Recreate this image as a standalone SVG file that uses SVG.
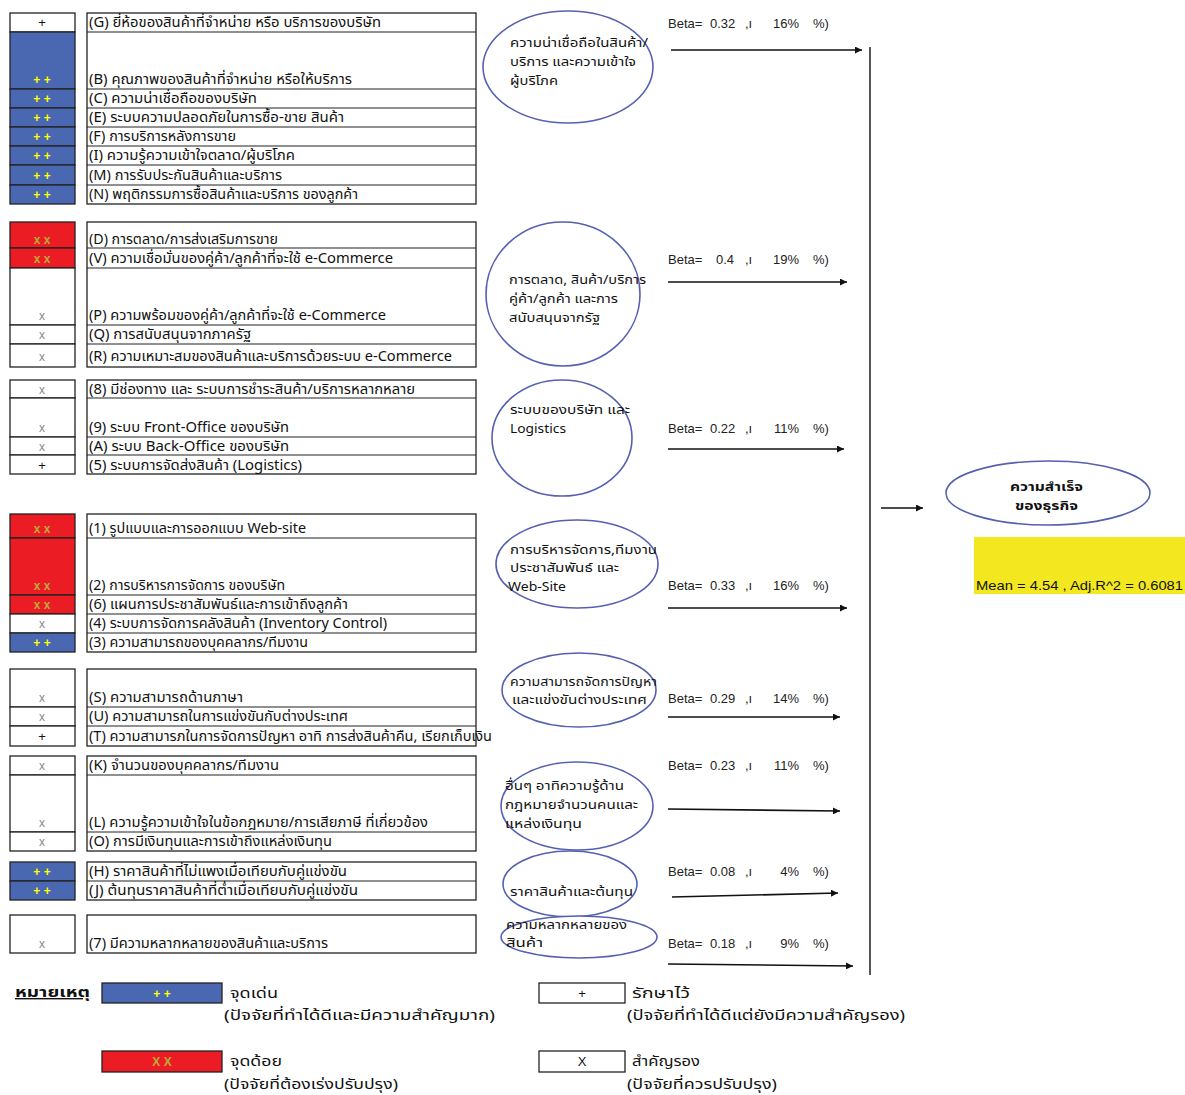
<svg xmlns="http://www.w3.org/2000/svg" width="1185" height="1095" viewBox="0 0 1185 1095">
<defs>
  <marker id="ah" viewBox="0 0 10 10" refX="10" refY="5" markerWidth="7" markerHeight="7" markerUnits="userSpaceOnUse" orient="auto">
    <path d="M0,0 L10,5 L0,10 z" fill="#111"/>
  </marker>
  <style>
    .th{font-family:"Noto Sans Thai","Noto Sans Thai UI","Tahoma","Liberation Sans",sans-serif;font-size:14px;fill:#111}
    .et{font-family:"Noto Sans Thai","Noto Sans Thai UI","Tahoma","Liberation Sans",sans-serif;font-size:12.5px;fill:#111}
    .lat{font-family:"Liberation Sans",Arial,sans-serif;font-size:13px;fill:#111}
    .box{fill:#fff;stroke:#222;stroke-width:1.3}
    .sep{stroke:#222;stroke-width:1.1}
    .blue{fill:#4a67b1;stroke:#222;stroke-width:1.3}
    .red{fill:#ec1c24;stroke:#222;stroke-width:1.3}
    .wc{fill:#fff;stroke:#222;stroke-width:1.3}
    .pp{font-family:"Liberation Sans",Arial,sans-serif;font-size:12px;fill:#ffff00;text-anchor:middle;font-weight:bold}
    .xx{font-family:"Liberation Sans",Arial,sans-serif;font-size:12px;fill:#bda93a;text-anchor:middle;font-weight:bold}
    .x1{font-family:"Liberation Sans",Arial,sans-serif;font-size:12px;fill:#888;text-anchor:middle}
    .p1{font-family:"Liberation Sans",Arial,sans-serif;font-size:13px;fill:#111;text-anchor:middle}
    .ell{fill:#fff;stroke:#5560b0;stroke-width:1.6}
    .conn{stroke:#111;stroke-width:1.6;fill:none}
    .beta{font-family:"Liberation Sans",Arial,sans-serif;font-size:13px;fill:#222}
  </style>
</defs>
<rect width="1185" height="1095" fill="#fff"/>

<!-- factor group 1 -->
<g id="group1">
  <rect class="wc" x="10" y="13" width="65" height="19"/>
  <rect class="blue" x="10" y="32" width="65" height="57"/>
  <rect class="blue" x="10" y="89" width="65" height="19"/>
  <rect class="blue" x="10" y="108" width="65" height="19"/>
  <rect class="blue" x="10" y="127" width="65" height="19"/>
  <rect class="blue" x="10" y="146" width="65" height="19"/>
  <rect class="blue" x="10" y="165" width="65" height="20"/>
  <rect class="blue" x="10" y="185" width="65" height="19"/>
  <text class="p1" x="42" y="27">+</text>
  <text class="pp" x="42" y="84">+ +</text>
  <text class="pp" x="42" y="103">+ +</text>
  <text class="pp" x="42" y="122">+ +</text>
  <text class="pp" x="42" y="141">+ +</text>
  <text class="pp" x="42" y="160">+ +</text>
  <text class="pp" x="42" y="180">+ +</text>
  <text class="pp" x="42" y="199">+ +</text>
  <rect class="box" x="87" y="13" width="389" height="191"/>
  <path class="sep" d="M87,32H476M87,89H476M87,108H476M87,127H476M87,146H476M87,165H476M87,185H476"/>
  <text class="th" x="89" y="27" textLength="292" lengthAdjust="spacingAndGlyphs">(G) ยี่ห้อของสินค้าที่จำหน่าย หรือ บริการของบริษัท</text>
  <text class="th" x="89" y="84" textLength="263" lengthAdjust="spacingAndGlyphs">(B) คุณภาพของสินค้าที่จำหน่าย หรือให้บริการ</text>
  <text class="th" x="89" y="103" textLength="168" lengthAdjust="spacingAndGlyphs">(C) ความน่าเชื่อถือของบริษัท</text>
  <text class="th" x="89" y="122" textLength="255" lengthAdjust="spacingAndGlyphs">(E) ระบบความปลอดภัยในการซื้อ-ขาย  สินค้า</text>
  <text class="th" x="89" y="141" textLength="147" lengthAdjust="spacingAndGlyphs">(F) การบริการหลังการขาย</text>
  <text class="th" x="89" y="160" textLength="206" lengthAdjust="spacingAndGlyphs">(I) ความรู้ความเข้าใจตลาด/ผู้บริโภค</text>
  <text class="th" x="89" y="180" textLength="193" lengthAdjust="spacingAndGlyphs">(M) การรับประกันสินค้าและบริการ</text>
  <text class="th" x="89" y="199" textLength="269" lengthAdjust="spacingAndGlyphs">(N) พฤติกรรมการซื้อสินค้าและบริการ ของลูกค้า</text>
</g>

<!-- factor group 2 -->
<g id="group2">
  <rect class="red" x="10" y="222" width="65" height="26"/>
  <rect class="red" x="10" y="248" width="65" height="20"/>
  <rect class="wc" x="10" y="268" width="65" height="57"/>
  <rect class="wc" x="10" y="325" width="65" height="19"/>
  <rect class="wc" x="10" y="344" width="65" height="23"/>
  <text class="xx" x="42" y="244">x x</text>
  <text class="xx" x="42" y="263">x x</text>
  <text class="x1" x="42" y="320">x</text>
  <text class="x1" x="42" y="339">x</text>
  <text class="x1" x="42" y="361">x</text>
  <rect class="box" x="87" y="222" width="389" height="145"/>
  <path class="sep" d="M87,248H476M87,268H476M87,325H476M87,344H476"/>
  <text class="th" x="89" y="244" textLength="189" lengthAdjust="spacingAndGlyphs">(D) การตลาด/การส่งเสริมการขาย</text>
  <text class="th" x="89" y="263" textLength="304" lengthAdjust="spacingAndGlyphs">(V) ความเชื่อมั่นของคู่ค้า/ลูกค้าที่จะใช้ e-Commerce</text>
  <text class="th" x="89" y="320" textLength="297" lengthAdjust="spacingAndGlyphs">(P) ความพร้อมของคู่ค้า/ลูกค้าที่จะใช้ e-Commerce</text>
  <text class="th" x="89" y="339" textLength="162" lengthAdjust="spacingAndGlyphs">(Q) การสนับสนุนจากภาครัฐ</text>
  <text class="th" x="89" y="361" textLength="363" lengthAdjust="spacingAndGlyphs">(R) ความเหมาะสมของสินค้าและบริการด้วยระบบ e-Commerce</text>
</g>

<!-- factor group 3 -->
<g id="group3">
  <rect class="wc" x="10" y="380" width="65" height="18"/>
  <rect class="wc" x="10" y="398" width="65" height="39"/>
  <rect class="wc" x="10" y="437" width="65" height="18"/>
  <rect class="wc" x="10" y="455" width="65" height="19"/>
  <text class="x1" x="42" y="394">x</text>
  <text class="x1" x="42" y="432">x</text>
  <text class="x1" x="42" y="451">x</text>
  <text class="p1" x="42" y="470">+</text>
  <rect class="box" x="87" y="380" width="389" height="94"/>
  <path class="sep" d="M87,398H476M87,437H476M87,455H476"/>
  <text class="th" x="89" y="394" textLength="326" lengthAdjust="spacingAndGlyphs">(8) มีช่องทาง และ ระบบการชำระสินค้า/บริการหลากหลาย</text>
  <text class="th" x="89" y="432" textLength="200" lengthAdjust="spacingAndGlyphs">(9) ระบบ Front-Office ของบริษัท</text>
  <text class="th" x="89" y="451" textLength="200" lengthAdjust="spacingAndGlyphs">(A) ระบบ Back-Office ของบริษัท</text>
  <text class="th" x="89" y="470" textLength="213" lengthAdjust="spacingAndGlyphs">(5) ระบบการจัดส่งสินค้า (Logistics)</text>
</g>

<!-- factor group 4 -->
<g id="group4">
  <rect class="red" x="10" y="514" width="65" height="24"/>
  <rect class="red" x="10" y="538" width="65" height="57"/>
  <rect class="red" x="10" y="595" width="65" height="19"/>
  <rect class="wc" x="10" y="614" width="65" height="19"/>
  <rect class="blue" x="10" y="633" width="65" height="19"/>
  <text class="xx" x="42" y="533">x x</text>
  <text class="xx" x="42" y="590">x x</text>
  <text class="xx" x="42" y="609">x x</text>
  <text class="x1" x="42" y="628">x</text>
  <text class="pp" x="42" y="647">+ +</text>
  <rect class="box" x="87" y="514" width="389" height="138"/>
  <path class="sep" d="M87,538H476M87,595H476M87,614H476M87,633H476"/>
  <text class="th" x="89" y="533" textLength="217" lengthAdjust="spacingAndGlyphs">(1) รูปแบบและการออกแบบ Web-site</text>
  <text class="th" x="89" y="590" textLength="196" lengthAdjust="spacingAndGlyphs">(2) การบริหารการจัดการ ของบริษัท</text>
  <text class="th" x="89" y="609" textLength="259" lengthAdjust="spacingAndGlyphs">(6) แผนการประชาสัมพันธ์และการเข้าถึงลูกค้า</text>
  <text class="th" x="89" y="628" textLength="298" lengthAdjust="spacingAndGlyphs">(4) ระบบการจัดการคลังสินค้า (Inventory  Control)</text>
  <text class="th" x="89" y="647" textLength="219" lengthAdjust="spacingAndGlyphs">(3) ความสามารถของบุคคลากร/ทีมงาน</text>
</g>

<!-- factor group 5 -->
<g id="group5">
  <rect class="wc" x="10" y="669" width="65" height="38"/>
  <rect class="wc" x="10" y="707" width="65" height="19"/>
  <rect class="wc" x="10" y="726" width="65" height="20"/>
  <text class="x1" x="42" y="702">x</text>
  <text class="x1" x="42" y="721">x</text>
  <text class="p1" x="42" y="741">+</text>
  <rect class="box" x="87" y="669" width="389" height="77"/>
  <path class="sep" d="M87,707H476M87,726H476"/>
  <text class="th" x="89" y="702" textLength="154" lengthAdjust="spacingAndGlyphs">(S) ความสามารถด้านภาษา</text>
  <text class="th" x="89" y="721" textLength="259" lengthAdjust="spacingAndGlyphs">(U) ความสามารถในการแข่งขันกับต่างประเทศ</text>
  <text class="th" x="89" y="741" textLength="403" lengthAdjust="spacingAndGlyphs">(T) ความสามารภในการจัดการปัญหา อาทิ การส่งสินค้าคืน, เรียกเก็บเงิน</text>
</g>

<!-- factor group 6 -->
<g id="group6">
  <rect class="wc" x="10" y="756" width="65" height="19"/>
  <rect class="wc" x="10" y="775" width="65" height="57"/>
  <rect class="wc" x="10" y="832" width="65" height="19"/>
  <text class="x1" x="42" y="770">x</text>
  <text class="x1" x="42" y="827">x</text>
  <text class="x1" x="42" y="846">x</text>
  <rect class="box" x="87" y="756" width="389" height="95"/>
  <path class="sep" d="M87,775H476M87,832H476"/>
  <text class="th" x="89" y="770" textLength="190" lengthAdjust="spacingAndGlyphs">(K) จำนวนของบุคคลากร/ทีมงาน</text>
  <text class="th" x="89" y="827" textLength="339" lengthAdjust="spacingAndGlyphs">(L) ความรู้ความเข้าใจในข้อกฎหมาย/การเสียภาษี ที่เกี่ยวข้อง</text>
  <text class="th" x="89" y="846" textLength="243" lengthAdjust="spacingAndGlyphs">(O) การมีเงินทุนและการเข้าถึงแหล่งเงินทุน</text>
</g>

<!-- factor group 7 -->
<g id="group7">
  <rect class="blue" x="10" y="862" width="65" height="19"/>
  <rect class="blue" x="10" y="881" width="65" height="19"/>
  <text class="pp" x="42" y="876">+ +</text>
  <text class="pp" x="42" y="895">+ +</text>
  <rect class="box" x="87" y="862" width="389" height="38"/>
  <path class="sep" d="M87,881H476"/>
  <text class="th" x="89" y="876" textLength="258" lengthAdjust="spacingAndGlyphs">(H) ราคาสินค้าที่ไม่แพงเมื่อเทียบกับคู่แข่งขัน</text>
  <text class="th" x="89" y="895" textLength="269" lengthAdjust="spacingAndGlyphs">(J) ต้นทุนราคาสินค้าที่ต่ำเมื่อเทียบกับคู่แข่งขัน</text>
</g>

<!-- factor group 8 -->
<g id="group8">
  <rect class="wc" x="10" y="915" width="65" height="38"/>
  <text class="x1" x="42" y="948">x</text>
  <rect class="box" x="87" y="915" width="389" height="38"/>
  <text class="th" x="89" y="948" textLength="239" lengthAdjust="spacingAndGlyphs">(7) มีความหลากหลายของสินค้าและบริการ</text>
</g>

<!-- summary ellipses -->
<g id="e1">
  <ellipse class="ell" cx="568" cy="67" rx="85" ry="56"/>
  <text class="et" x="510" y="47" textLength="138" lengthAdjust="spacingAndGlyphs">ความน่าเชื่อถือในสินค้า/</text>
  <text class="et" x="510" y="66" textLength="126" lengthAdjust="spacingAndGlyphs">บริการ และความเข้าใจ</text>
  <text class="et" x="510" y="85" textLength="48" lengthAdjust="spacingAndGlyphs">ผู้บริโภค</text>
</g>
<g id="e2">
  <ellipse class="ell" cx="563" cy="294" rx="77" ry="72"/>
  <text class="et" x="509" y="284" textLength="137" lengthAdjust="spacingAndGlyphs">การตลาด, สินค้า/บริการ</text>
  <text class="et" x="509" y="303" textLength="109" lengthAdjust="spacingAndGlyphs">คู่ค้า/ลูกค้า และการ</text>
  <text class="et" x="509" y="322" textLength="91" lengthAdjust="spacingAndGlyphs">สนับสนุนจากรัฐ</text>
</g>
<g id="e3">
  <ellipse class="ell" cx="562" cy="438" rx="70" ry="58"/>
  <text class="et" x="510" y="414" textLength="120" lengthAdjust="spacingAndGlyphs">ระบบของบริษัท และ</text>
  <text class="et" x="510" y="433" textLength="56" lengthAdjust="spacingAndGlyphs">Logistics</text>
</g>
<g id="e4">
  <ellipse class="ell" cx="577" cy="564" rx="81" ry="44"/>
  <text class="et" x="510" y="554" textLength="147" lengthAdjust="spacingAndGlyphs">การบริหารจัดการ,ทีมงาน</text>
  <text class="et" x="510" y="572" textLength="109" lengthAdjust="spacingAndGlyphs">ประชาสัมพันธ์ และ</text>
  <text class="et" x="508" y="591" textLength="58" lengthAdjust="spacingAndGlyphs">Web-Site</text>
</g>
<g id="e5">
  <ellipse class="ell" cx="579" cy="690" rx="77" ry="37"/>
  <text class="et" x="510" y="686" textLength="147" lengthAdjust="spacingAndGlyphs">ความสามารถจัดการปัญหา</text>
  <text class="et" x="512" y="704" textLength="135" lengthAdjust="spacingAndGlyphs">และแข่งขันต่างประเทศ</text>
</g>
<g id="e6">
  <ellipse class="ell" cx="577" cy="806" rx="76" ry="44"/>
  <text class="et" x="505" y="790" textLength="119" lengthAdjust="spacingAndGlyphs">อื่นๆ อาทิความรู้ด้าน</text>
  <text class="et" x="505" y="809" textLength="133" lengthAdjust="spacingAndGlyphs">กฎหมายจำนวนคนและ</text>
  <text class="et" x="505" y="828" textLength="77" lengthAdjust="spacingAndGlyphs">แหล่งเงินทุน</text>
</g>
<g id="e7">
  <ellipse class="ell" cx="570" cy="884" rx="67" ry="33"/>
  <text class="et" x="510" y="896" textLength="123" lengthAdjust="spacingAndGlyphs">ราคาสินค้าและต้นทุน</text>
</g>
<g id="e8">
  <ellipse class="ell" cx="579" cy="937" rx="78" ry="21"/>
  <text class="et" x="506" y="929" textLength="121" lengthAdjust="spacingAndGlyphs">ความหลากหลายของ</text>
  <text class="et" x="506" y="947" textLength="37" lengthAdjust="spacingAndGlyphs">สินค้า</text>
</g>

<!-- outcome -->
<g id="outcome">
  <ellipse class="ell" cx="1048" cy="493" rx="102" ry="32"/>
  <text class="et" x="1010" y="491" font-weight="bold" textLength="73" lengthAdjust="spacingAndGlyphs">ความสำเร็จ</text>
  <text class="et" x="1015" y="510" font-weight="bold" textLength="63" lengthAdjust="spacingAndGlyphs">ของธุรกิจ</text>
</g>
<g id="stats">
  <rect x="974" y="537" width="211" height="57" fill="#f3e81f"/>
  <text class="lat" x="976" y="590" textLength="207" lengthAdjust="spacingAndGlyphs">Mean = 4.54 ,  Adj.R^2 = 0.6081</text>
</g>

<!-- beta coefficients -->
<g id="betas" class="beta">
  <text y="28"><tspan x="668">Beta=</tspan><tspan x="710">0.32</tspan><tspan x="745">,ı</tspan><tspan x="799" text-anchor="end">16%</tspan><tspan x="813">%)</tspan></text>
  <text y="264"><tspan x="668">Beta=</tspan><tspan x="716">0.4</tspan><tspan x="745">,ı</tspan><tspan x="799" text-anchor="end">19%</tspan><tspan x="813">%)</tspan></text>
  <text y="433"><tspan x="668">Beta=</tspan><tspan x="710">0.22</tspan><tspan x="745">,ı</tspan><tspan x="799" text-anchor="end">11%</tspan><tspan x="813">%)</tspan></text>
  <text y="590"><tspan x="668">Beta=</tspan><tspan x="710">0.33</tspan><tspan x="745">,ı</tspan><tspan x="799" text-anchor="end">16%</tspan><tspan x="813">%)</tspan></text>
  <text y="703"><tspan x="668">Beta=</tspan><tspan x="710">0.29</tspan><tspan x="745">,ı</tspan><tspan x="799" text-anchor="end">14%</tspan><tspan x="813">%)</tspan></text>
  <text y="770"><tspan x="668">Beta=</tspan><tspan x="710">0.23</tspan><tspan x="745">,ı</tspan><tspan x="799" text-anchor="end">11%</tspan><tspan x="813">%)</tspan></text>
  <text y="876"><tspan x="668">Beta=</tspan><tspan x="710">0.08</tspan><tspan x="745">,ı</tspan><tspan x="799" text-anchor="end">4%</tspan><tspan x="813">%)</tspan></text>
  <text y="948"><tspan x="668">Beta=</tspan><tspan x="710">0.18</tspan><tspan x="745">,ı</tspan><tspan x="799" text-anchor="end">9%</tspan><tspan x="813">%)</tspan></text>
</g>

<!-- connectors -->
<g id="connectors">
  <path class="conn" d="M671,50H862" marker-end="url(#ah)"/>
  <path class="conn" d="M668,282H847" marker-end="url(#ah)"/>
  <path class="conn" d="M668,449H844" marker-end="url(#ah)"/>
  <path class="conn" d="M668,608H847" marker-end="url(#ah)"/>
  <path class="conn" d="M668,717H840" marker-end="url(#ah)"/>
  <path class="conn" d="M668,809L840,811" marker-end="url(#ah)"/>
  <path class="conn" d="M672,897L838,893" marker-end="url(#ah)"/>
  <path class="conn" d="M668,964L853,966" marker-end="url(#ah)"/>
  <path d="M870,47V975" stroke="#555" stroke-width="2" fill="none"/>
  <path class="conn" d="M881,508H923" marker-end="url(#ah)"/>
</g>

<!-- legend -->
<g id="legend">
  <text class="th" x="15" y="997" font-weight="bold" text-decoration="underline" textLength="75" lengthAdjust="spacingAndGlyphs">หมายเหตุ</text>
  <rect class="blue" x="102" y="983" width="120" height="20"/>
  <text class="pp" x="162" y="998">+ +</text>
  <text class="th" x="230" y="998" textLength="48" lengthAdjust="spacingAndGlyphs">จุดเด่น</text>
  <text class="th" x="224" y="1020" textLength="271" lengthAdjust="spacingAndGlyphs">(ปัจจัยที่ทำได้ดีและมีความสำคัญมาก)</text>
  <rect class="red" x="102" y="1051" width="120" height="21"/>
  <text class="xx" x="162" y="1066" font-weight="normal">X X</text>
  <text class="th" x="230" y="1066" textLength="52" lengthAdjust="spacingAndGlyphs">จุดด้อย</text>
  <text class="th" x="224" y="1089" textLength="174" lengthAdjust="spacingAndGlyphs">(ปัจจัยที่ต้องเร่งปรับปรุง)</text>
  <rect class="wc" x="539" y="983" width="86" height="20"/>
  <text class="p1" x="582" y="998">+</text>
  <text class="th" x="632" y="998" textLength="58" lengthAdjust="spacingAndGlyphs">รักษาไว้</text>
  <text class="th" x="627" y="1020" textLength="278" lengthAdjust="spacingAndGlyphs">(ปัจจัยที่ทำได้ดีแต่ยังมีความสำคัญรอง)</text>
  <rect class="wc" x="539" y="1051" width="86" height="21"/>
  <text class="p1" x="582" y="1066">X</text>
  <text class="th" x="632" y="1066" textLength="68" lengthAdjust="spacingAndGlyphs">สำคัญรอง</text>
  <text class="th" x="627" y="1089" textLength="150" lengthAdjust="spacingAndGlyphs">(ปัจจัยที่ควรปรับปรุง)</text>
</g>
</svg>
